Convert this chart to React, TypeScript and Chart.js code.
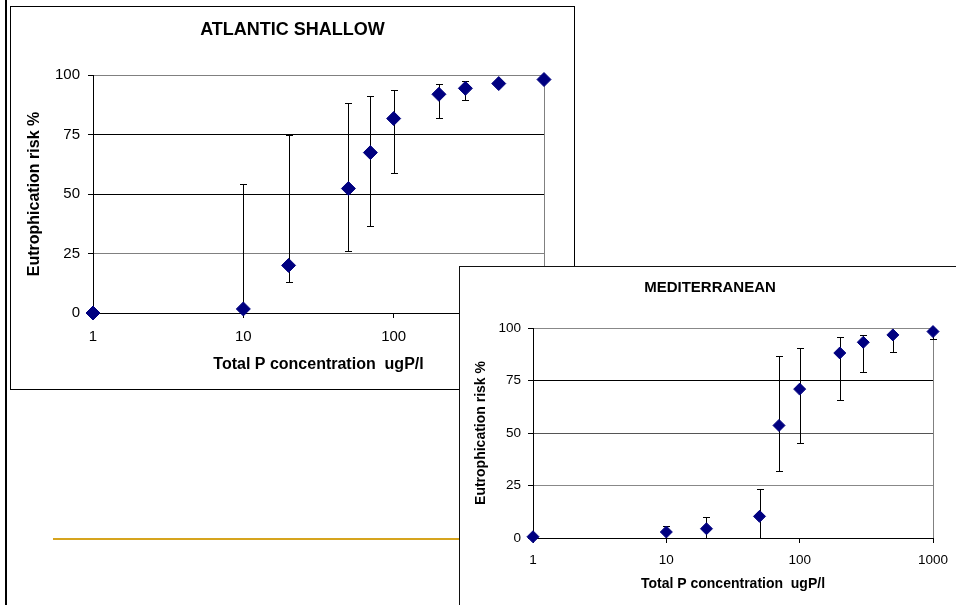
import React, { useEffect, useRef } from 'react';
import { Chart, registerables } from 'chart.js';

Chart.register(...registerables);

// ---- data ----
const concentrations = [1, 10, 20, 50, 70, 100, 200, 300, 500, 1000];
const xTickValues = [1, 10, 100, 1000];
const xTickLabels = ['1', '10', '100', '1000'];
const yTickValues = [0, 25, 50, 75, 100];

const atlanticRisk = [0, 1.7, 20.0, 52.3, 67.4, 81.7, 91.9, 94.4, 96.4, 98.1];
const atlanticUpper: (number | null)[] = [null, 54.1, 75.0, 88.4, 91.2, 93.6, 96.4, 97.3, 97.0, 98.6];
const atlanticLower: (number | null)[] = [null, 0, 13.0, 25.9, 36.4, 58.7, 82.1, 89.4, 95.8, 97.6];

const medRisk = [0.6, 2.85, 4.4, 10.3, 53.6, 70.9, 88.1, 93.2, 96.7, 98.3];
const medUpper: (number | null)[] = [null, 5.7, 10.0, 23.4, 86.6, 90.7, 95.9, 96.8, 98.0, 99.5];
const medLower: (number | null)[] = [null, 0, 0, 0, 32.1, 45.3, 65.8, 79.0, 88.6, 94.9];

const xTitleText = 'Total P concentration  ugP/l';
const yTitleText = 'Eutrophication risk %';

const FONT = "'Liberation Sans', Arial, Helvetica, sans-serif";

type Geo = {
  w: number; h: number;
  titleSize: number; titlePadTop: number; titlePadBottom: number;
  yAxisW: number; xAxisH: number; rightPad: number;
  tickSize: number; yTickPad: number; xTickPad: number;
  axisTitleSize: number; xTitlePadBottom: number; yTitlePadTop: number;
  radius: number; cap: number;
  gridColors: Record<number, string>;
};

function makeErrorBars(xs: number[], upper: (number | null)[], lower: (number | null)[], cap: number) {
  return {
    id: 'errorBars',
    beforeDatasetsDraw(chart: any) {
      const { ctx } = chart;
      const xs_ = chart.scales.x;
      const ys_ = chart.scales.y;
      ctx.save();
      ctx.strokeStyle = '#000';
      ctx.lineWidth = 1;
      ctx.beginPath();
      xs.forEach((xv, i) => {
        const u = upper[i];
        const l = lower[i];
        if (u == null || l == null) return;
        const px = Math.round(xs_.getPixelForValue(xv)) + 0.5;
        const pt = Math.round(ys_.getPixelForValue(u)) + 0.5;
        const pb = Math.round(ys_.getPixelForValue(l)) + 0.5;
        ctx.moveTo(px, pt);
        ctx.lineTo(px, pb);
        ctx.moveTo(px - cap, pt);
        ctx.lineTo(px + cap, pt);
        ctx.moveTo(px - cap, pb);
        ctx.lineTo(px + cap, pb);
      });
      ctx.stroke();
      ctx.restore();
    },
  };
}

function RiskChart(props: {
  title: string;
  risk: number[];
  upper: (number | null)[];
  lower: (number | null)[];
  g: Geo;
}) {
  const ref = useRef<HTMLCanvasElement | null>(null);
  const { title, risk, upper, lower, g } = props;

  useEffect(() => {
    if (!ref.current) return;
    const chart = new Chart(ref.current, {
      type: 'scatter',
      data: {
        datasets: [
          {
            data: concentrations.map((x, i) => ({ x, y: risk[i] })),
            pointStyle: 'rectRot',
            pointRadius: g.radius,
            pointHoverRadius: g.radius,
            backgroundColor: '#000080',
            borderColor: '#000080',
            borderWidth: 1,
            showLine: false,
            clip: false,
          } as any,
        ],
      },
      options: {
        animation: false,
        responsive: false,
        devicePixelRatio: 1,
        events: [],
        layout: { padding: 0 },
        plugins: {
          legend: { display: false },
          tooltip: { enabled: false },
          title: {
            display: true,
            text: title,
            color: '#000',
            font: { family: FONT, size: g.titleSize, weight: 'bold', lineHeight: 1.2 },
            padding: { top: g.titlePadTop, bottom: g.titlePadBottom },
          },
        },
        scales: {
          x: {
            type: 'logarithmic',
            position: 'bottom',
            min: 1,
            max: 1000,
            afterBuildTicks: (s: any) => {
              s.ticks = xTickValues.map((v) => ({ value: v, major: true }));
            },
            afterFit: (s: any) => {
              s.height = g.xAxisH;
              s.paddingRight = g.rightPad;
            },
            ticks: {
              autoSkip: false,
              maxRotation: 0,
              padding: g.xTickPad,
              color: '#000',
              font: { family: FONT, size: g.tickSize, lineHeight: 1.2 },
              callback: (v: any) => {
                const i = xTickValues.indexOf(Number(v));
                return i >= 0 ? xTickLabels[i] : '';
              },
            },
            grid: {
              drawOnChartArea: true,
              color: (c: any) => (c.tick && c.tick.value === 1000 ? '#808080' : 'rgba(0,0,0,0)'),
              tickColor: '#000',
              tickLength: 5,
              lineWidth: 1,
            },
            border: { display: true, color: '#000', width: 1 },
            title: {
              display: true,
              text: xTitleText,
              color: '#000',
              font: { family: FONT, size: g.axisTitleSize, weight: 'bold', lineHeight: 1.2 },
              padding: { top: 0, bottom: g.xTitlePadBottom },
            },
          } as any,
          y: {
            type: 'linear',
            min: 0,
            max: 100,
            afterBuildTicks: (s: any) => {
              s.ticks = yTickValues.map((v) => ({ value: v }));
            },
            afterFit: (s: any) => {
              s.width = g.yAxisW;
            },
            ticks: {
              padding: g.yTickPad,
              color: '#000',
              font: { family: FONT, size: g.tickSize, lineHeight: 1.2 },
              callback: (v: any) => String(v),
            },
            grid: {
              color: (c: any) => (c.tick ? g.gridColors[c.tick.value] || '#000' : '#000'),
              tickColor: '#000',
              tickLength: 5,
              lineWidth: 1,
            },
            border: { display: true, color: '#000', width: 1 },
            title: {
              display: true,
              text: yTitleText,
              color: '#000',
              font: { family: FONT, size: g.axisTitleSize, weight: 'bold', lineHeight: 1.2 },
              padding: { top: g.yTitlePadTop, bottom: 0 },
            },
          } as any,
        },
      },
      plugins: [makeErrorBars(concentrations, upper, lower, g.cap)],
    });
    return () => chart.destroy();
  }, []);

  return (
    <canvas
      ref={ref}
      width={g.w}
      height={g.h}
      style={{ position: 'absolute', left: 0, top: 0, width: g.w, height: g.h, display: 'block' }}
    />
  );
}

const topGeo: Geo = {
  w: 563, h: 382,
  titleSize: 18, titlePadTop: 12, titlePadBottom: 34.4,
  yAxisW: 82, xAxisH: 76, rightPad: 30,
  tickSize: 15, yTickPad: 8, xTickPad: 10,
  axisTitleSize: 16, xTitlePadBottom: 15, yTitlePadTop: 14.4,
  radius: 7, cap: 3.5,
  gridColors: { 0: '#000', 25: '#808080', 50: '#000', 75: '#000', 100: '#808080' },
};

const bottomGeo: Geo = {
  w: 500, h: 338,
  titleSize: 15, titlePadTop: 11.5, titlePadBottom: 31.5,
  yAxisW: 73, xAxisH: 67, rightPad: 27,
  tickSize: 13.5, yTickPad: 7, xTickPad: 8.9,
  axisTitleSize: 14, xTitlePadBottom: 12.6, yTitlePadTop: 13.1,
  radius: 6, cap: 3.5,
  gridColors: { 0: '#333', 25: '#888', 50: '#555', 75: '#000', 100: '#888' },
};

export default function App() {
  return (
    <div
      style={{
        position: 'fixed',
        left: 0,
        top: 0,
        width: 956,
        height: 605,
        overflow: 'hidden',
        background: '#fff',
      }}
    >
      {/* thick slide edge on the left */}
      <div style={{ position: 'absolute', left: 5, top: 0, width: 2, height: 605, background: '#000' }} />
      {/* golden rule */}
      <div style={{ position: 'absolute', left: 53, top: 538, width: 420, height: 2, background: '#d6a41e' }} />
      {/* ATLANTIC SHALLOW */}
      <div
        style={{
          position: 'absolute',
          left: 10,
          top: 6,
          width: 565,
          height: 384,
          border: '1px solid #000',
          boxSizing: 'border-box',
          background: '#fff',
        }}
      >
        <RiskChart title="ATLANTIC SHALLOW" risk={atlanticRisk} upper={atlanticUpper} lower={atlanticLower} g={topGeo} />
      </div>
      {/* MEDITERRANEAN */}
      <div
        style={{
          position: 'absolute',
          left: 459,
          top: 266,
          width: 600,
          height: 400,
          borderLeft: '1px solid #111',
          borderTop: '1px solid #111',
          boxSizing: 'border-box',
          background: '#fff',
        }}
      >
        <RiskChart title="MEDITERRANEAN" risk={medRisk} upper={medUpper} lower={medLower} g={bottomGeo} />
      </div>
    </div>
  );
}
